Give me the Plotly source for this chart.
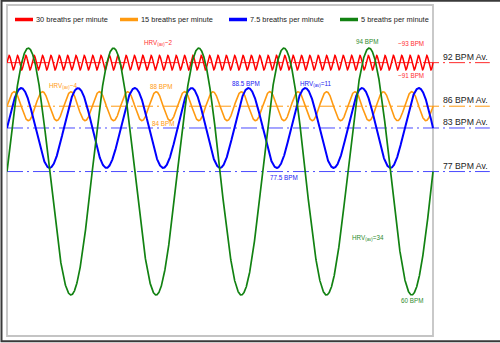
import numpy as np
import plotly.graph_objects as go

# Breathing patterns and the heart-rate swing each one produces
series_names = ["30 breaths per minute", "15 breaths per minute",
                "7.5 breaths per minute", "5 breaths per minute"]
breaths_per_min = [30, 15, 7.5, 5]
# number of heart-rate cycles drawn across the window for each pattern
cycles_drawn = [51, 15, 7.5, 5]
peak_bpm = [93, 88, 88.5, 94]
trough_bpm = [91, 84, 77.5, 60]
series_colors = ["#ff0000", "#ff9a10", "#0000ff", "#128212"]
series_widths = [1.5, 1.6, 2.0, 1.7]

# Average heart-rate reference lines
avg_bpm = [92, 86, 83, 77]
avg_labels = ["92 BPM Av.", "86 BPM Av.", "83 BPM Av.", "77 BPM Av."]
avg_colors = ["#ff2a2a", "#ff9a10", "#4a4aff", "#4a4aff"]

# Callout texts on the curves: (text, x seconds, y bpm, colour index)
callouts = [
    ("HRV<sub>(av)</sub>~2", 21.3, 94.7, 0),
    ("~93 BPM", 56.9, 94.7, 0),
    ("~91 BPM", 56.9, 90.2, 0),
    ("94 BPM", 50.7, 94.85, 3),
    ("HRV<sub>(av)</sub>~4", 7.9, 88.8, 1),
    ("88 BPM", 21.7, 88.65, 1),
    ("84 BPM", 22.0, 83.6, 1),
    ("88.5 BPM", 33.7, 89.1, 2),
    ("HRV<sub>(av)</sub>=11", 43.4, 89.1, 2),
    ("77.5 BPM", 39.0, 76.2, 2),
    ("HRV<sub>(av)</sub>=34", 50.8, 67.8, 3),
    ("60 BPM", 57.0, 59.2, 3),
]
callout_colors = ["#ff3030", "#ff9a10", "#2020f0", "#2e8b2e"]

X_RANGE = [0, 68.45]
Y_RANGE = [54.35, 99.94]
WINDOW_S = 60.0
FONT = "Liberation Sans, Arial, sans-serif"

fig = go.Figure()

# dash-dot average lines (drawn beneath the waves)
for v, c in zip(avg_bpm, avg_colors):
    fig.add_trace(go.Scatter(
        x=[0, 68.0], y=[v, v], mode="lines",
        line=dict(color=c, width=1, dash="16px,4px,2px,4px"),
        hoverinfo="skip", showlegend=False))

# heart-rate oscillation for each breathing pattern
t = np.linspace(0, WINDOW_S, 4001)
for name, cyc, hi, lo, c, w in zip(series_names, cycles_drawn, peak_bpm,
                                   trough_bpm, series_colors, series_widths):
    mid = (hi + lo) / 2
    amp = (hi - lo) / 2
    hr = mid + amp * np.sin(2 * np.pi * cyc * t / WINDOW_S)
    fig.add_trace(go.Scatter(x=t, y=hr, mode="lines", name=name,
                             line=dict(color=c, width=w),
                             showlegend=False))

annotations = []
for text, xs, yb, ci in callouts:
    annotations.append(dict(x=xs, y=yb, xref="x", yref="y", text=text,
                            showarrow=False, xanchor="center", yanchor="middle",
                            font=dict(family=FONT, size=6.3,
                                      color=callout_colors[ci])))

for v, lab in zip(avg_bpm, avg_labels):
    annotations.append(dict(x=61.13, y=v, xref="x", yref="y", text=lab,
                            showarrow=False, xanchor="left", yanchor="bottom",
                            yshift=-1,
                            font=dict(family=FONT, size=8.7, color="#222222")))

# hand-placed legend row inside the frame
W, H, L, T = 486.0, 331.0, 7.0, 5.0
def px(xp):
    return (xp - L) / W
def py(yp):
    return (T + H - yp) / H

legend_x = [15, 120, 229, 340]
shapes = []
for name, c, x0 in zip(series_names, series_colors, legend_x):
    shapes.append(dict(type="line", xref="paper", yref="paper",
                       x0=px(x0), x1=px(x0 + 18), y0=py(19.5), y1=py(19.5),
                       line=dict(color=c, width=3.5)))
    annotations.append(dict(x=px(x0 + 19), y=py(19.5), xref="paper",
                            yref="paper", text=name, showarrow=False,
                            xanchor="left", yanchor="middle",
                            font=dict(family=FONT, size=7.4, color="#222222")))

# inner chart frame and outer border
shapes.append(dict(type="rect", xref="paper", yref="paper",
                   x0=px(7), x1=px(433), y0=py(336), y1=py(5),
                   line=dict(color="#c4c4c4", width=1.8), layer="below"))
shapes.append(dict(type="rect", xref="paper", yref="paper",
                   x0=px(1.5), x1=px(502), y0=py(341.2), y1=py(0.8),
                   line=dict(color="#3a3a3a", width=2), layer="above"))

fig.update_layout(
    width=500, height=343,
    margin=dict(l=7, r=7, t=5, b=7),
    paper_bgcolor="white", plot_bgcolor="white",
    xaxis=dict(range=X_RANGE, visible=False, fixedrange=True),
    yaxis=dict(range=Y_RANGE, visible=False, fixedrange=True),
    showlegend=False,
    annotations=annotations,
    shapes=shapes,
)

fig.write_html("out.html")
